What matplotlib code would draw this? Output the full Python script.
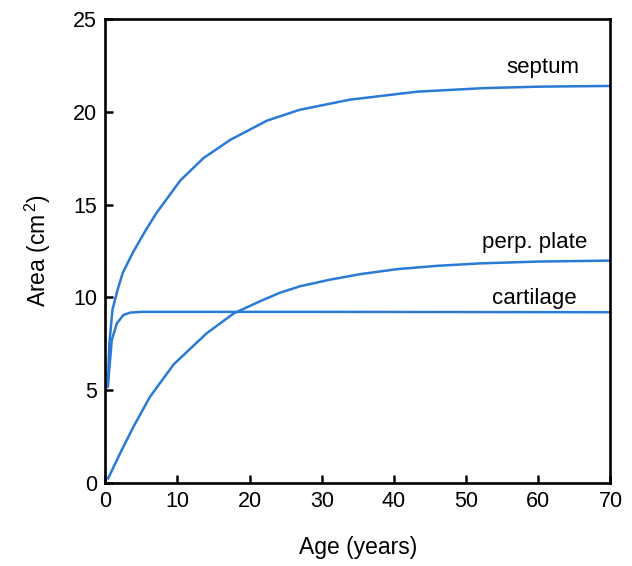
import matplotlib
matplotlib.use("Agg")
import matplotlib.pyplot as plt

plt.rcParams['font.family'] = ['Liberation Sans', 'DejaVu Sans']
plt.rcParams['mathtext.fontset'] = 'custom'
plt.rcParams['mathtext.rm'] = 'Liberation Sans'
plt.rcParams['mathtext.it'] = 'Liberation Sans:italic'

septum_x = [0.35, 0.56, 1.0, 1.7, 2.4, 3.8, 5.5, 7.1, 10.4, 13.6, 17.3, 22.4, 26.9, 33.9, 43.2, 52.4, 60.0, 70.0]
septum_y = [5.2, 7.5, 9.35, 10.4, 11.3, 12.4, 13.55, 14.55, 16.3, 17.5, 18.48, 19.52, 20.1, 20.65, 21.08, 21.27, 21.35, 21.39]

cart_x = [0.35, 0.9, 1.6, 2.5, 3.45, 5.0, 10.0, 30.0, 50.0, 70.0]
cart_y = [5.2, 7.7, 8.6, 9.05, 9.18, 9.22, 9.22, 9.22, 9.21, 9.2]

perp_x = [0.4, 2.05, 3.9, 6.2, 9.5, 14.0, 17.8, 21.5, 24.2, 27.0, 31.1, 35.3, 40.4, 46.0, 51.9, 60.0, 70.0]
perp_y = [0.25, 1.6, 3.03, 4.65, 6.4, 8.05, 9.14, 9.8, 10.25, 10.6, 10.95, 11.25, 11.52, 11.7, 11.83, 11.93, 11.98]

x_ticks = [0, 10, 20, 30, 40, 50, 60, 70]
y_ticks = [0, 5, 10, 15, 20, 25]

color = '#2a7ad6'

fig = plt.figure(figsize=(6.32, 5.66), dpi=100)
ax = fig.add_axes([0.1666, 0.1466, 0.7993, 0.82])

ax.plot(septum_x, septum_y, color=color, lw=1.8, solid_joinstyle='round')
ax.plot(cart_x, cart_y, color=color, lw=1.8, solid_joinstyle='round')
ax.plot(perp_x, perp_y, color=color, lw=1.8, solid_joinstyle='round')

ax.set_xlim(0, 70)
ax.set_ylim(0, 25)
ax.set_xticks(x_ticks)
ax.set_yticks(y_ticks)
ax.tick_params(direction='in', length=6, width=1.8, labelsize=15.5, pad=6,
               top=False, right=False)
for s in ax.spines.values():
    s.set_linewidth(1.9)

ax.set_xlabel('Age (years)', fontsize=16.5, labelpad=17)
ax.set_ylabel('Area (cm$^{\\,2}$)', fontsize=16.5, labelpad=14)

ax.text(60.7, 22.06, 'septum', fontsize=16, ha='center', va='baseline')
ax.text(59.5, 12.66, 'perp. plate', fontsize=16, ha='center', va='baseline')
ax.text(59.4, 9.65, 'cartilage', fontsize=16, ha='center', va='baseline')

fig.savefig('out.png', dpi=100)
